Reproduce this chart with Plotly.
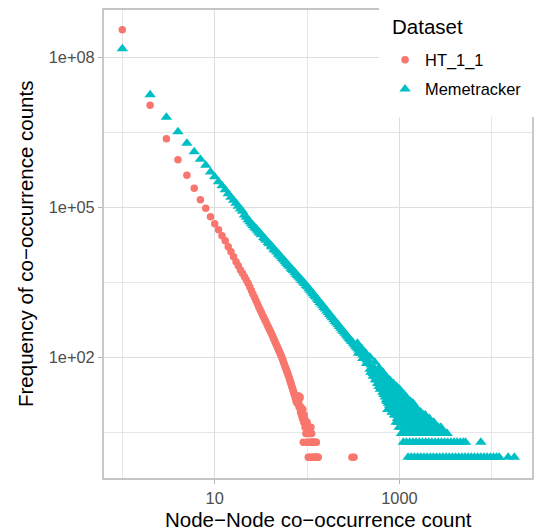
import plotly.graph_objects as go

# ---------------------------------------------------------------
# HT_1_1: frequency of each node-node co-occurrence count
# ---------------------------------------------------------------
ht_x = list(range(1, 75))
ht_y = [
    355000000, 11000000, 2340000, 890000, 437000, 240000, 141000, 95500, 64600, 46800,
    35500, 26900, 21400, 16200, 12900, 10200, 8130, 6760, 5600, 4800,
    4100, 3530, 3020, 2550, 2150, 1830, 1570, 1350, 1170, 1016,
    890, 787, 695, 625, 557, 501, 450, 405, 367, 333,
    302, 274, 248, 225, 204, 185, 170, 156, 143, 131,
    120, 111, 102, 93, 85, 77, 70, 64, 59, 54,
    50, 46, 42, 39, 35, 32, 30, 27, 25, 23,
    21, 19, 18, 16,
]
# sparse low-frequency tail of HT_1_1
ht_tail_x = [75, 76, 77, 78, 79, 80, 81, 82, 83, 84, 85, 86, 87, 88, 89, 90,
             91, 92, 93, 94, 95, 96, 97, 98, 99, 100, 101, 102, 103, 104, 105,
             106, 107, 108, 109, 110, 111, 112, 113, 114, 116, 117, 119, 120,
             122, 123, 125, 126, 128, 130, 132, 306, 322]
ht_tail_y = [15, 13, 14, 12, 16, 17, 12, 10, 15, 16, 8, 10, 7, 8, 6, 9,
             2, 5, 7, 6, 4, 5, 3, 4, 2, 5, 3, 4, 1, 3, 2,
             4, 1, 3, 2, 4, 2, 3, 1, 2, 1, 2, 1, 2,
             1, 2, 1, 2, 1, 1, 1, 1, 1]

# ---------------------------------------------------------------
# Memetracker
# ---------------------------------------------------------------
meme_head_x = list(range(1, 22))
meme_head_y = [148000000, 17800000, 6300000, 3240000, 1910000, 1290000, 910000,
               690000, 510000, 410000, 324000, 269000, 224000, 186000, 158000,
               138000, 120000, 105000, 93000, 83000, 70000]

meme_band_x = [
    22, 23, 24, 25, 26, 27, 28, 29, 30, 31, 32, 34, 35, 36, 38, 39, 41, 42, 44,
    45, 47, 49, 50, 52, 54, 56, 58, 60, 62, 64, 67, 69, 71, 74, 77, 79, 82, 85,
    88, 91, 94, 98, 101, 105, 108, 112, 116, 120, 124, 129, 133, 138, 143, 148,
    153, 158, 164, 170, 176, 182, 188, 195, 202, 209, 216, 224, 232, 240, 248,
    257, 266, 275, 285, 295, 305, 316, 327, 338, 350, 362, 375, 388, 402, 416,
    430, 445, 461, 477, 494, 511, 529, 547, 566, 586, 607, 628, 650, 673, 696,
    721, 746, 772, 799, 827, 856, 886, 917, 949, 982, 1016]
meme_band_y = [
    63000, 56600, 51300, 47100, 43400, 40100, 37200, 34600, 32200, 30100, 28200,
    24800, 23400, 22000, 19700, 18700, 16800, 16000, 14500, 13900, 12700, 11600,
    11100, 10300, 9480, 8790, 8170, 7620, 7110, 6650, 6050, 5690, 5360, 4920,
    4530, 4290, 3970, 3690, 3430, 3200, 2990, 2740, 2570, 2350, 2200, 2030,
    1870, 1730, 1600, 1470, 1360, 1250, 1160, 1070, 990, 920, 840, 780, 720,
    660, 615, 566, 522, 483, 448, 412, 379, 352, 327, 302, 279, 259, 239, 222,
    206, 190, 176, 163, 151, 140, 129, 120, 111, 103, 95, 88, 82, 76, 70, 65,
    60, 56, 52, 48, 45, 42, 39, 36, 34, 31, 29, 27, 25, 24, 22, 20, 19, 18,
    16, 15]

# upper and lower edges of the noisy part of the Memetracker curve
meme_hi_x = [350, 390, 430, 480, 540, 600, 660, 720, 790, 860, 930, 1000,
             1060, 1130, 1200, 1280, 1360, 1450, 1550, 1690]
meme_hi_y = [190, 150, 122, 100, 80, 62, 50, 41, 34, 28, 24, 21,
             18, 16, 14, 13, 11, 10, 9, 8]
meme_lo_x = [360, 400, 440, 480, 520, 560, 600, 640, 680, 720, 750, 790, 830]
meme_lo_y = [120, 95, 75, 58, 47, 38, 31, 25, 20, 17, 9, 14, 12]

# small-count rows of the Memetracker tail (x positions for each frequency)
meme_f1 = [1240, 1340, 1450, 1570, 1700, 1840, 1990, 2150, 2330, 2520, 2730,
           2950, 3190, 3450, 3730, 4040, 4370, 4730, 5120, 5540, 5990, 6480,
           7010, 7590, 8210, 8880, 9610, 10400, 11250, 12000, 15000, 17500]
meme_f2 = [1100, 1190, 1290, 1400, 1510, 1640, 1770, 1920, 2070, 2240, 2430,
           2630, 2840, 3070, 3320, 3600, 3890, 4210, 4550, 4920, 5180, 7600]
meme_f3 = [1050, 1100, 1150, 1210, 1270, 1330, 1400, 1470, 1540, 1620, 1700,
           1780, 1870, 1960, 2060, 2160, 2270, 2380, 2500, 2630, 2760, 2900,
           3040, 3190, 3280]
meme_f4 = [990, 1040, 1090, 1150, 1200, 1260, 1330, 1390, 1460, 1540, 1610,
           1690, 1780, 1870, 1960, 2060, 2160, 2270, 2380, 2500, 2620, 2800]
meme_f5 = [920, 970, 1010, 1060, 1120, 1170, 1230, 1290, 1360, 1430, 1500,
           1570, 1650, 1730, 1820, 1910, 2010, 2110, 2220, 2350]
meme_f6 = [950, 1000, 1050, 1100, 1160, 1220, 1280, 1340, 1410, 1480, 1550,
           1630, 1710, 1800, 1890, 1980, 2100]
meme_f7 = [880, 920, 970, 1020, 1070, 1120, 1180, 1240, 1300, 1360, 1430,
           1500, 1580, 1660, 1740, 1820, 1900]
meme_f8 = [830, 870, 910, 960, 1010, 1060, 1110, 1170, 1230, 1290, 1350,
           1420, 1490, 1560, 1640, 1690]
meme_f9 = [750, 800, 850, 890, 940, 980, 1030, 1080, 1140, 1200, 1260, 1320,
           1390, 1460, 1550]
meme_f10 = [790, 830, 870, 910, 960, 1010, 1060, 1110, 1170, 1230, 1290,
            1350, 1420, 1480]
meme_f11 = [780, 820, 860, 900, 950, 1000, 1050, 1100, 1160, 1220, 1280,
            1350, 1430]
meme_f12 = [760, 800, 840, 880, 920, 970, 1020, 1070, 1120, 1180, 1240,
            1300, 1400]
meme_f13 = [740, 780, 820, 860, 900, 950, 1000, 1050, 1100, 1160, 1220, 1320]
meme_f14 = [720, 760, 800, 840, 880, 930, 980, 1030, 1080, 1140, 1230]
meme_f16 = [700, 740, 780, 820, 860, 900, 950, 1000, 1050, 1100, 1180]
meme_f18 = [680, 720, 760, 800, 840, 880, 930, 980, 1030, 1080, 1120]
meme_f20 = [660, 700, 740, 780, 820, 860, 900, 950, 1000, 1060]
meme_f23 = [620, 660, 700, 740, 780, 820, 860, 910, 960, 1000]
meme_f26 = [600, 640, 680, 720, 760, 800, 850, 900, 930]
meme_f30 = [580, 620, 660, 700, 740, 780, 820, 860]
meme_f35 = [550, 590, 630, 670, 710, 750, 780]
meme_f42 = [520, 555, 590, 625, 660, 690]
meme_f50 = [490, 520, 550, 580, 610]

meme_rows = [(1, meme_f1), (2, meme_f2), (3, meme_f3), (4, meme_f4),
             (5, meme_f5), (6, meme_f6), (7, meme_f7), (8, meme_f8),
             (9, meme_f9), (10, meme_f10), (11, meme_f11), (12, meme_f12),
             (13, meme_f13), (14, meme_f14), (16, meme_f16), (18, meme_f18),
             (20, meme_f20), (23, meme_f23), (26, meme_f26), (30, meme_f30),
             (35, meme_f35), (42, meme_f42), (50, meme_f50)]

meme_all_x = meme_head_x + meme_band_x + meme_hi_x + meme_lo_x
meme_all_y = meme_head_y + meme_band_y + meme_hi_y + meme_lo_y
for freq, xs in meme_rows:
    meme_all_x += xs
    meme_all_y += [freq] * len(xs)

ht_all_x = ht_x + ht_tail_x
ht_all_y = ht_y + ht_tail_y

RED = "#F8766D"
TEAL = "#00BFC4"
FONT = "Liberation Sans, Arial, Helvetica, sans-serif"
GRID = "#DEDEDE"
BORDER = "#B3B3B3"

fig = go.Figure()
fig.add_trace(go.Scatter(
    x=ht_all_x, y=ht_all_y, mode="markers", name="HT_1_1",
    legendgroup="a",
    marker=dict(symbol="circle", size=7.5, color=RED, line=dict(width=0)),
))
fig.add_trace(go.Scatter(
    x=meme_all_x, y=meme_all_y, mode="markers", name="Memetracker",
    legendgroup="b",
    marker=dict(symbol="triangle-up", size=10, color=TEAL, line=dict(width=0)),
))

fig.update_layout(
    width=536, height=531,
    margin=dict(l=103, r=3, t=9, b=52),
    paper_bgcolor="white", plot_bgcolor="white",
    font=dict(family=FONT, color="black"),
    showlegend=True,
    legend=dict(
        x=0.656, y=0.9287, xanchor="left", yanchor="top",
        bgcolor="rgba(0,0,0,0)",
        font=dict(size=16.4, color="black"),
        tracegroupgap=5,
    ),
    xaxis=dict(
        type="log", range=[-0.209, 4.445],
        tickvals=[10, 1000], ticktext=["10", "1000"],
        ticks="outside", ticklen=4, tickwidth=1, tickcolor=BORDER,
        tickfont=dict(size=16.4, color="#4D4D4D"),
        showgrid=True, gridcolor=GRID, gridwidth=1,
        minor=dict(tickvals=[1, 100, 10000], showgrid=True,
                   gridcolor="#E6E6E6", gridwidth=1, ticks=""),
        zeroline=False, showline=False,
    ),
    yaxis=dict(
        type="log", range=[-0.434, 8.966],
        tickvals=[1e2, 1e5, 1e8], ticktext=["1e+02", "1e+05", "1e+08"],
        ticks="outside", ticklen=4, tickwidth=1, tickcolor=BORDER,
        tickfont=dict(size=16.4, color="#4D4D4D"),
        showgrid=True, gridcolor=GRID, gridwidth=1,
        minor=dict(tickvals=[10 ** 0.5, 10 ** 3.5, 10 ** 6.5], showgrid=True,
                   gridcolor="#E6E6E6", gridwidth=1, ticks=""),
        zeroline=False, showline=False,
    ),
    shapes=[
        # panel border
        dict(type="rect", xref="paper", yref="paper", x0=0, x1=1, y0=0, y1=1,
             line=dict(color=BORDER, width=1.4), layer="above"),
        # legend background sitting over the top-right of the panel
        dict(type="rect", xref="paper", yref="paper", x0=0.642, x1=1.02,
             y0=0.770, y1=1.03, fillcolor="white", line=dict(width=0),
             layer="above"),
    ],
    annotations=[
        dict(text="Dataset", xref="paper", yref="paper", x=0.6674, y=0.9617,
             yshift=1, xanchor="left", yanchor="middle", showarrow=False,
             font=dict(size=20.5, color="black", family=FONT)),
        dict(text="Node\u2212Node co\u2212occurrence count", xref="paper",
             yref="paper", x=0.5, y=0, yshift=-40, xanchor="center",
             yanchor="middle", showarrow=False,
             font=dict(size=20.5, color="black", family=FONT)),
        dict(text="Frequency of co\u2212occurrence counts", xref="paper",
             yref="paper", x=0, y=0.5, xshift=-78, xanchor="center",
             yanchor="middle", textangle=-90, showarrow=False,
             font=dict(size=20.5, color="black", family=FONT)),
    ],
)

fig.write_html("out.html")
